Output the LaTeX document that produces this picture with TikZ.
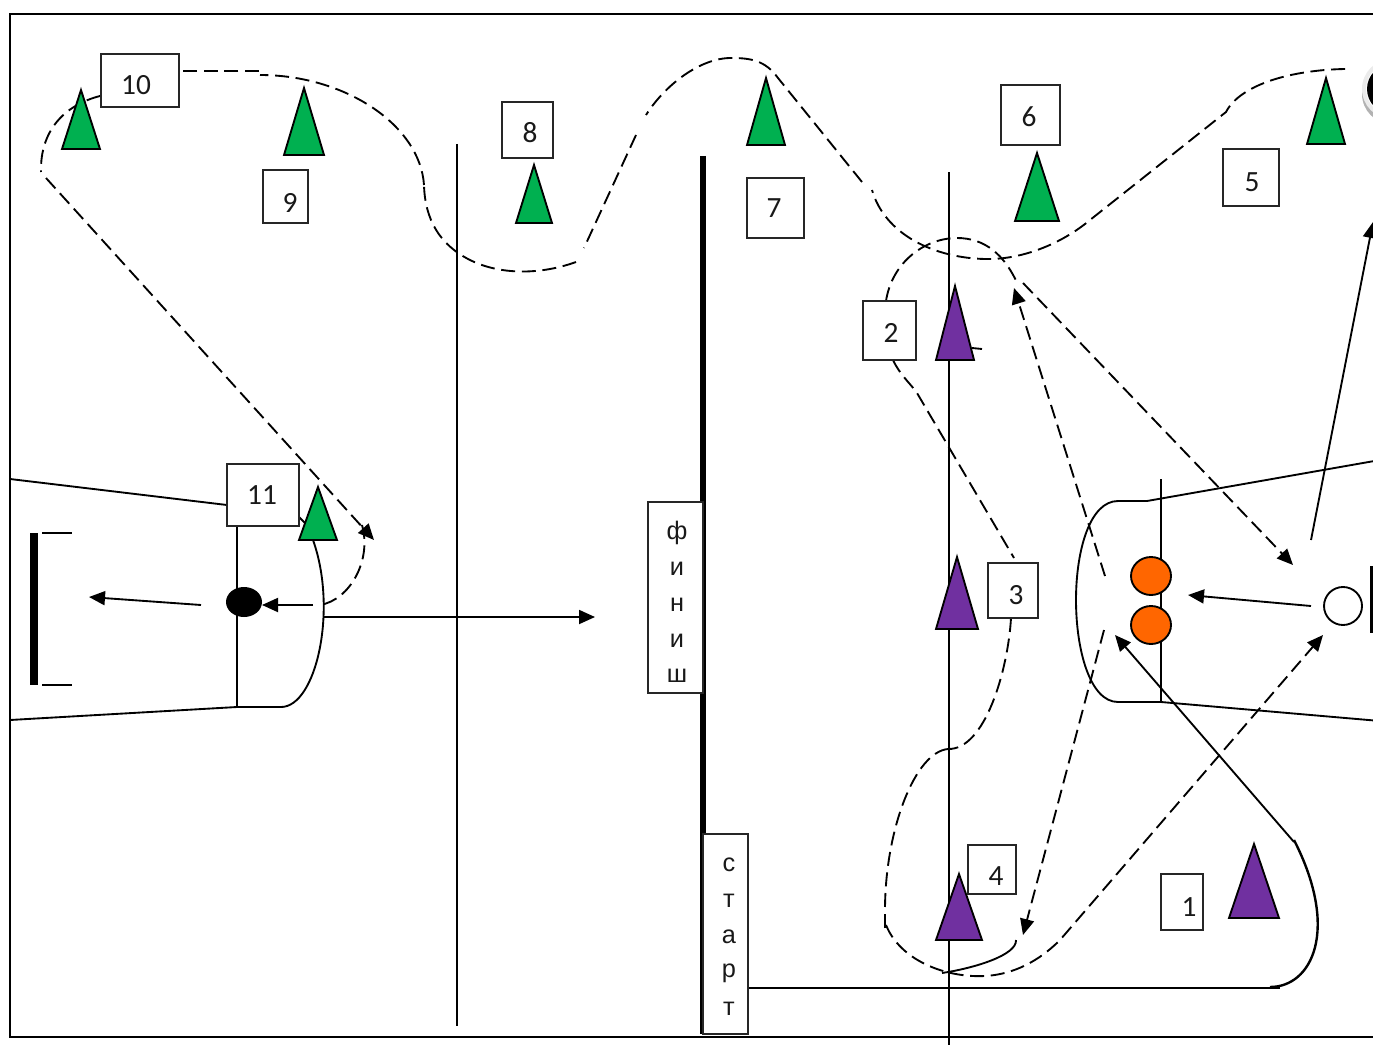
\documentclass[tikz,border=0pt]{standalone}
\usepackage{fontspec}
\setmainfont{Carlito}
\newfontfamily\wordfont{Liberation Sans}
\usetikzlibrary{arrows.meta}
\definecolor{cgreen}{HTML}{00B050}
\definecolor{cpurple}{HTML}{7030A0}
\definecolor{corange}{HTML}{FF6600}
\newcommand{\numbox}[8]{%
  \node[numbox,minimum width={(#4-#2)*0.75pt},minimum height={(#5-#3)*0.75pt}] (#1) at ({(#2+#4)/2},{(#3+#5)/2}) {};
  \node[numtext] (#1t) at (#6,#7) {#8};}
\newcommand{\cone}[5]{% colour apex-x apex-y half-width base-y
  \filldraw[cone,fill=#1] (#2,#3) -- (#2+#4,#5) -- (#2-#4,#5) -- cycle;}
\tikzset{
  numbox/.style={draw=black!85,fill=white,line width=1.4pt,inner sep=0pt,outer sep=0pt},
  numtext/.style={inner sep=0pt,font=\fontsize{22}{24}\selectfont,text=black!90},
  wordtext/.style={inner sep=0pt,font=\wordfont\fontsize{19}{22}\selectfont,text=black!90},
  cone/.style={draw=black,line width=1.4pt,line join=miter},
  sline/.style={draw=black,line width=1.4pt},
  dline/.style={draw=black,line width=1.4pt,dash pattern=on 10.5pt off 5pt},
  tip/.style={-{Triangle[length=12pt,width=10.5pt]}},
  ball/.style={draw=black,line width=1.4pt},
}
\begin{document}
\begin{tikzpicture}[x=0.75pt,y=-0.75pt]
\useasboundingbox (0,0) rectangle (1373,1045);
\clip (0,0) rectangle (1373,1045);
\fill[white] (0,0) rectangle (1373,1045);
% frame
\draw[sline] (1380,14) -- (10,14) -- (10,1037) -- (1380,1037);
% vertical field lines
\draw[sline] (457,144) -- (457,1026);
\draw[draw=black,line width=3.8pt] (703,156) -- (703,1034);
\draw[sline] (949,172) -- (949,1045);
\draw[sline] (1161,479) -- (1161,702);
\draw[sline] (237,526) -- (237,707);
% left zone
\draw[sline] (10,479) -- (227,505);
\draw[sline] (10,720) -- (237,707) -- (281,707) .. controls (316,707) and (338,610) .. (313,540);
\draw[sline] (299,517) -- (306,524);
% right zone
\draw[sline] (1380,460) -- (1147,501) -- (1118,501) .. controls (1090,501) and (1076,550) .. (1076,600) .. controls (1076,650) and (1090,702) .. (1118,702) -- (1161,702) -- (1380,721);
% goals
\draw[draw=black,line width=6pt] (34,533) -- (34,685);
\draw[sline] (42,533) -- (72,533);
\draw[sline] (42,685) -- (72,685);
\draw[draw=black,line width=3pt] (1372,566) -- (1372,633);
% start run
\draw[sline] (748,988) -- (1280,988);
\draw[draw=black,line width=1.8pt] (1270,987) .. controls (1312,987) and (1340,930) .. (1294,840);
% solid arrows
\draw[sline,tip] (201,605) -- (89,597);
\draw[sline,tip] (313,605) -- (262,605);
\draw[sline,tip] (324,617) -- (595,617);
\draw[sline,tip] (1311,540) -- (1373,222);
\draw[sline,tip] (1311,606) -- (1188,595);
\draw[sline,tip] (1294,842) -- (1115,635);
% dashed arrows
\draw[dline,tip] (1023,283) -- (1293,565);
\draw[dline,tip] (1105,576) -- (1014,288);
\draw[dline,tip] (1104,630) -- (1023,935);
\draw[dline,tip] (886,925) .. controls (900,960) and (945,978) .. (985,976) .. controls (1020,974) and (1045,955) .. (1060,940) -- (1323,635);
\draw[dline] (885,928) -- (885,912);
\draw[sline] (942,973) .. controls (975,968) and (1017,955) .. (1016,940);
% big dashed route
\draw[dline] (1345,69) .. controls (1290,70) and (1240,85) .. (1226,112) -- (1090,220) .. controls (1060,245) and (1020,260) .. (985,259) .. controls (935,258) and (885,235) .. (872,190);
\draw[dline] (862,182) -- (778,78) .. controls (765,60) and (750,58) .. (731,58) .. controls (700,58) and (665,85) .. (646,115);
\draw[dline] (636,135) -- (584,248);
\draw[dline] (576,262) .. controls (540,275) and (500,275) .. (470,260) .. controls (440,245) and (425,220) .. (424,185);
\draw[dline] (424,185) .. controls (420,125) and (345,75) .. (260,75);
\draw[dline] (259,71) -- (179,71);
\draw[dline] (100,96) .. controls (65,105) and (40,130) .. (41,172);
\draw[dline,tip] (46,178) -- (374,540);
\draw[dline] (362,525) .. controls (372,560) and (350,600) .. (320,605);
% purple slalom
\draw[dline] (886,301) .. controls (892,262) and (925,238) .. (957,238) .. controls (985,238) and (1005,255) .. (1018,285);
\draw[dline] (893,360) .. controls (900,375) and (910,383) .. (917,393) -- (1014,558);
\draw[dline] (1011,618) .. controls (1008,670) and (985,750) .. (948,749);
\draw[dline] (948,749) .. controls (915,752) and (885,830) .. (885,910);
\draw[sline] (972,348) -- (982,349);
% balls
\filldraw[ball,fill=corange] (1151,576) ellipse [x radius=20,y radius=19];
\filldraw[ball,fill=corange] (1151,625) ellipse [x radius=20,y radius=19];
\filldraw[ball,fill=white] (1343,606) circle (19);
\fill[black] (244,602) ellipse [x radius=18,y radius=15];
% top-right ball with shadow
\fill[black!30] (1392,94) circle (30);
\fill[black!8] (1392,89) circle (30);
\fill[white] (1392,89) circle (26);
\fill[black] (1392,89) circle (25);
% cones
\cone{cgreen}{81}{90}{19}{149}
\cone{cgreen}{304}{88}{20}{155}
\cone{cgreen}{534}{165}{18}{223}
\cone{cgreen}{766}{78}{19}{145}
\cone{cgreen}{1037}{153}{22}{221}
\cone{cgreen}{1326}{78}{19}{144}
\cone{cgreen}{318}{487}{19}{540}
\cone{cpurple}{955}{286}{19}{360}
\cone{cpurple}{957}{557}{21}{629}
\cone{cpurple}{959}{874}{23}{940}
\cone{cpurple}{1254}{844}{25}{918}
% numbered boxes
\numbox{b10}{101}{54}{179}{107}{136}{85}{10}
\numbox{b9}{263}{170}{308}{223}{290}{203}{9}
\numbox{b8}{502}{102}{553}{158}{530}{133}{8}
\numbox{b7}{747}{178}{804}{238}{774}{208}{7}
\numbox{b6}{1001}{85}{1060}{145}{1029}{117}{6}
\numbox{b5}{1223}{149}{1279}{206}{1252}{182}{5}
\numbox{b2}{863}{301}{916}{360}{891}{333}{2}
\numbox{b3}{988}{563}{1038}{618}{1016}{595}{3}
\numbox{b4}{968}{845}{1016}{894}{996}{876}{4}
\numbox{b1}{1161}{874}{1203}{930}{1189}{907}{1}
\numbox{b11}{227}{464}{299}{526}{262}{495}{11}
% word boxes
\node[numbox,minimum width={55*0.75pt},minimum height={191*0.75pt}] (finish) at (675.5,597.5) {};
\foreach \ch/\yy [count=\i] in {ф/533,и/569,н/605,и/641,ш/676}
  \node[wordtext] (f\i) at (677,\yy) {\ch};
\node[numbox,minimum width={45*0.75pt},minimum height={200*0.75pt}] (start) at (725.5,934) {};
\foreach \ch/\yy [count=\i] in {с/865,т/901,а/937,р/973,т/1009}
  \node[wordtext] (s\i) at (729,\yy) {\ch};
\end{tikzpicture}
\end{document}
